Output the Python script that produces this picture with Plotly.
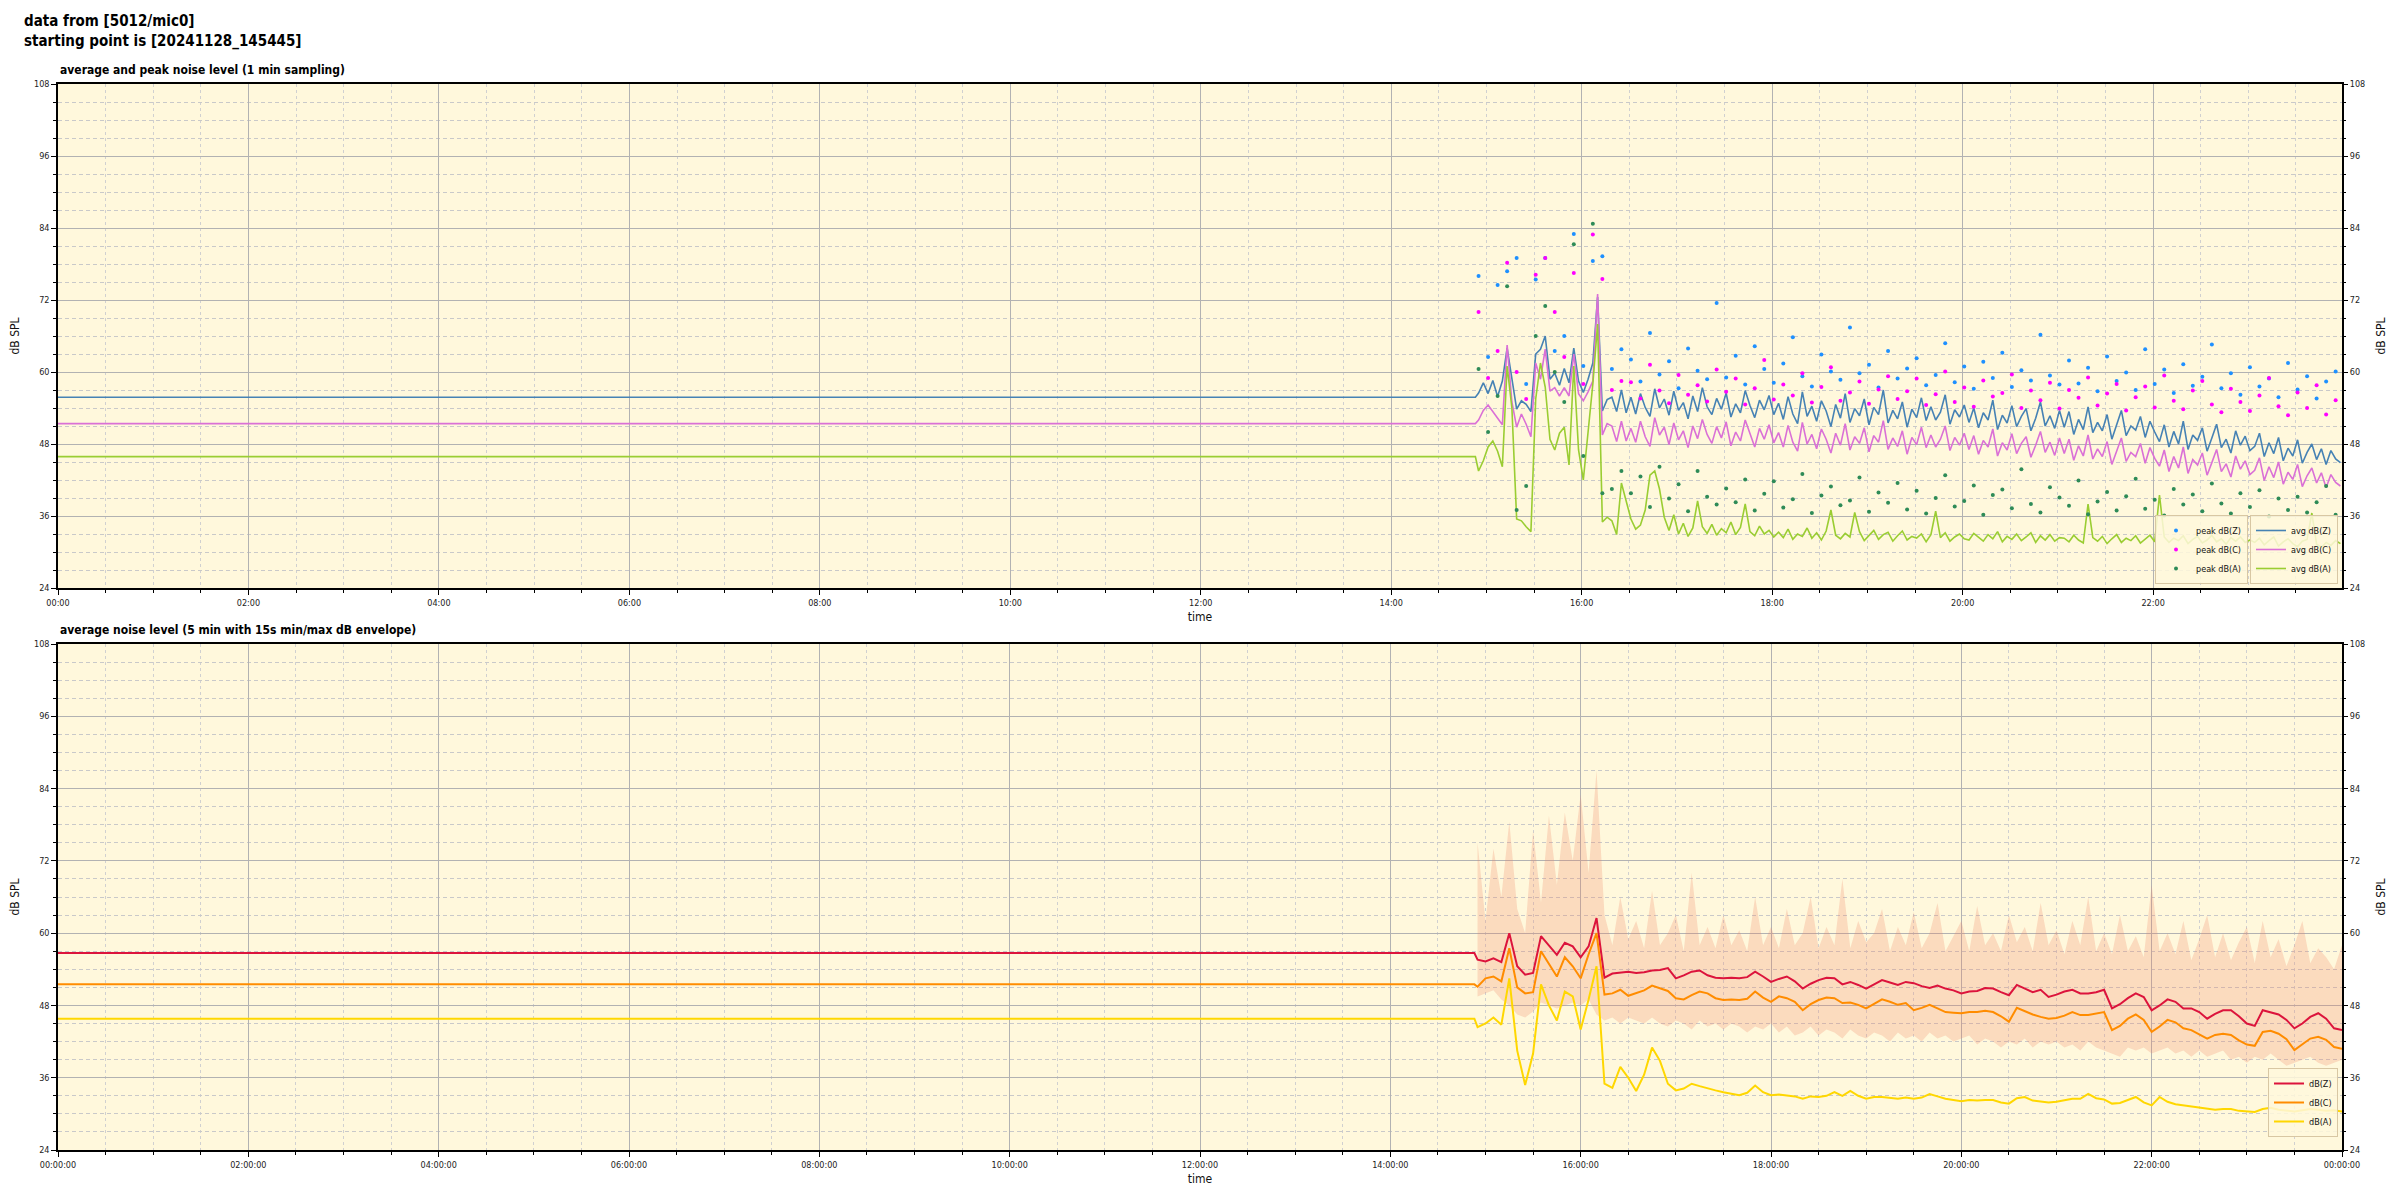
import pandas as pd
import plotly.graph_objects as go

# ---------------- data ----------------
DAY_START = "2024-11-28 00:00"
DAY_END_TOP = "2024-11-28 23:59"
DAY_END_BOT = "2024-11-29 00:00"
REC_START = "2024-11-28 14:55"
FILL_END = "2024-11-28 14:53"

# level shown before the recording started (padding)
TOP_FLAT_Z = 55.8
TOP_FLAT_C = 51.4
TOP_FLAT_A = 45.9
BOT_FLAT_Z = 56.7
BOT_FLAT_C = 51.5
BOT_FLAT_A = 45.8

# top panel: 1 min averages, read every 3 min
AVG_Z = [56.5, 58.2, 56.4, 58.6, 55.9, 58.5, 64.0, 58.5, 53.8, 55.2,
         54.6, 53.4, 63.0, 63.8, 66.0, 58.8, 59.8, 57.8, 60.6, 58.2,
         64.0, 58.5, 56.6, 58.8, 61.5, 72.5, 53.5, 55.4, 55.8, 53.4,
         57.0, 53.2,
         55.8, 53.0, 56.4, 54.1, 52.6, 57.2, 54.0, 55.5, 52.8, 56.8,
         53.6, 54.9, 52.2, 56.0, 53.4, 57.4, 54.2, 52.9, 55.6, 53.8,
         56.5, 52.5, 54.7, 53.2, 56.9, 54.4, 52.4, 55.3, 53.7, 56.1,
         52.9,
         54.8, 52.1, 55.9, 53.0, 51.4, 56.7, 52.6, 54.3, 51.8, 55.2,
         53.5, 50.9, 54.6, 52.3, 56.4, 51.6, 53.9, 52.7, 55.5, 51.2,
         54.1, 52.9, 57.0, 51.5, 53.6, 52.2, 55.0, 50.8, 53.8, 52.4,
         55.7, 51.9, 54.2, 52.0, 53.3, 56.2, 51.3, 53.7, 52.5, 54.5,
         51.6, 54.0, 50.7, 53.2, 52.0, 55.3, 50.4, 52.8, 51.5, 54.4,
         50.9, 52.6, 53.9, 50.2, 52.3, 55.0, 51.0, 52.7, 50.6, 53.6,
         50.8, 53.4, 49.6, 52.1, 50.4, 54.2, 49.9, 51.6, 50.2, 52.9,
         48.8, 51.3, 53.6, 49.4, 51.0, 50.3, 52.6, 49.1, 51.8, 50.0,
         48.4, 51.2, 47.5, 50.1, 48.0, 51.8, 47.1, 49.5, 48.6, 50.7,
         46.8, 49.0, 51.3, 47.4, 48.8, 46.5, 50.2, 47.8, 49.3, 46.9,
         47.6, 49.8, 45.9, 48.2, 46.4, 49.1, 45.2, 47.3, 46.0, 48.7,
         44.8, 46.6, 48.0, 45.4, 47.2, 44.6, 46.9, 45.5, 44.9]

AVG_C = [52.0, 53.6, 54.5, 53.4, 52.4, 51.2, 64.5, 55.0, 50.8, 53.0,
         51.3, 49.2, 61.5, 58.8, 63.8, 56.8, 57.4, 56.0, 57.4, 56.0,
         63.0, 56.4, 55.2, 56.7, 58.5, 73.0, 49.5, 51.4, 51.0, 48.4,
         51.8, 48.5,
         50.6, 48.3, 51.8, 49.2, 47.6, 52.4, 49.5, 50.8, 47.9, 51.5,
         48.7, 50.2, 47.4, 51.0, 48.9, 52.1, 49.6, 48.1, 50.9, 49.0,
         51.7, 47.7, 50.0, 48.5, 52.0, 49.8, 47.5, 50.6, 48.8, 51.2,
         48.2,
         49.9, 47.5, 51.1, 48.3, 46.8, 51.6, 48.0, 49.6, 47.2, 50.5,
         48.8, 46.5, 49.8, 47.8, 51.4, 47.0, 49.2, 48.1, 50.7, 46.7,
         49.4, 48.3, 51.9, 47.1, 49.0, 47.6, 50.2, 46.3, 49.1, 47.9,
         50.8, 47.4, 49.5, 47.5, 48.8, 51.0, 46.9, 49.1, 47.8, 49.8,
         47.1, 49.4, 46.3, 48.6, 47.5, 50.5, 46.0, 48.2, 47.0, 49.7,
         46.4, 48.1, 49.2, 45.8, 47.8, 50.1, 46.6, 48.3, 46.1, 49.0,
         46.4, 48.8, 45.3, 47.7, 46.0, 49.5, 45.5, 47.2, 45.9, 48.4,
         44.6, 46.9, 49.0, 45.1, 46.6, 45.9, 48.1, 44.8, 47.4, 45.6,
         44.3, 47.0, 43.4, 45.9, 44.0, 47.5, 43.1, 45.4, 44.5, 46.5,
         42.8, 44.9, 47.1, 43.4, 44.7, 42.5, 46.0, 43.8, 45.2, 42.9,
         43.6, 45.7, 41.9, 44.2, 42.4, 45.0, 41.3, 43.3, 42.1, 44.6,
         40.9, 42.7, 44.0, 41.5, 43.2, 40.7, 42.9, 41.6, 41.0]

AVG_A = [43.5, 45.2, 47.5, 48.5, 46.8, 44.2, 61.0, 54.0, 35.5, 35.2,
         34.2, 33.4, 55.5, 61.5, 57.5, 48.8, 47.0, 49.8, 50.8, 44.5,
         61.0, 47.0, 42.0, 50.0, 58.0, 68.0, 35.0, 35.8, 35.2, 32.9,
         41.5, 38.5,
         35.5, 33.8, 34.5, 37.0, 42.8, 43.5, 40.5, 35.8, 33.6, 36.2,
         33.0, 34.8, 32.6, 34.0,
         38.5, 34.2, 33.1, 34.6, 32.8, 33.9, 33.2, 35.0, 32.9, 34.1,
         38.0, 33.4, 32.7, 34.3, 33.0, 33.6, 32.5,
         33.3, 32.4, 33.8, 32.1, 33.0, 32.6, 34.0, 32.3, 33.2, 32.0,
         33.5, 37.0, 32.8, 32.2, 33.1, 32.5, 36.6, 33.4, 31.9, 32.8,
         33.6, 32.1, 32.9, 33.3, 31.8, 32.7, 33.5, 32.0, 32.6, 32.3,
         33.0, 31.7, 32.9, 36.8, 32.4, 33.2, 31.8, 32.5, 33.0, 32.2,
         32.0, 33.1, 32.4, 31.8, 32.9, 32.2, 33.4, 31.7, 32.6, 32.1,
         33.0, 31.9, 32.5, 33.2, 31.6, 32.7, 32.0, 32.9, 31.8, 32.4,
         32.3, 31.7, 32.8, 32.0, 31.5, 38.0, 32.4, 31.8, 32.6, 31.4,
         32.2, 32.9, 31.6, 32.3, 31.9, 32.7, 31.5, 32.1, 32.8, 31.7,
         39.5, 32.5, 31.6, 32.3, 31.9, 32.7, 31.4, 32.1, 32.6, 31.5,
         32.0, 32.8, 31.7, 32.2, 31.3, 32.4, 31.8, 32.5, 31.6, 32.0,
         31.6, 32.3, 31.2, 31.9, 32.5, 31.0, 31.7, 32.2, 31.4, 30.9,
         31.8, 32.1, 36.5, 31.3, 30.8, 31.6, 31.1, 31.9, 31.4]

# top panel: 1 min peaks, read every 6 min
PEAK_Z = [76.0, 62.5, 74.5, 76.8, 79.0, 58.0, 75.4, 79.0, 63.5, 66.0,
          83.0, 61.0, 78.5, 79.3, 60.5, 63.8,
          62.1, 58.4, 66.5, 59.6, 61.8, 57.3, 63.9, 60.2, 58.8, 71.5,
          59.1, 62.7, 57.9, 64.3, 60.5, 58.2, 61.4, 65.8, 59.3, 57.6,
          62.9, 60.1, 58.7, 67.4, 59.8, 61.2, 57.4, 63.5, 58.9, 60.6,
          62.3, 57.8, 59.5, 64.8, 58.3, 60.9, 57.2, 61.7, 59.0, 63.2,
          57.5, 60.3, 58.6, 66.2, 59.4, 57.9, 61.9, 58.1, 60.7, 56.8,
          62.6, 58.5, 59.9, 57.0, 63.8, 58.0, 60.4, 56.5, 61.3, 57.7,
          59.2, 64.6, 57.3, 59.8, 56.2, 60.8, 57.6, 58.9, 55.8, 61.5,
          57.1, 59.3, 55.6, 58.4, 60.1]
PEAK_C = [70.0, 59.0, 63.5, 78.2, 60.0, 55.5, 76.2, 79.0, 70.0, 62.5,
          76.5, 58.0, 82.9, 75.5, 57.0, 58.5,
          58.3, 55.6, 61.2, 56.9, 54.8, 59.5, 56.2, 57.8, 55.1, 60.4,
          56.7, 58.9, 54.6, 57.3, 62.0, 55.4, 57.9, 56.1, 59.8, 54.9,
          57.5, 60.8, 55.2, 56.6, 58.4, 54.7, 57.1, 59.3, 55.5, 56.8,
          58.9, 54.5, 56.3, 60.1, 55.0, 57.4, 54.2, 58.6, 55.9, 56.5,
          59.6, 54.0, 56.9, 55.3, 58.2, 53.9, 57.0, 55.7, 59.1, 54.4,
          56.4, 58.0, 53.6, 55.8, 57.6, 54.1, 59.4, 55.2, 53.8, 56.9,
          58.5, 54.6, 53.3, 57.2, 55.0, 53.5, 56.1, 59.0, 54.3, 52.8,
          56.6, 54.0, 57.8, 52.9, 55.3]
PEAK_A = [60.5, 50.0, 56.0, 74.3, 37.0, 41.0, 66.0, 71.0, 60.0, 55.0,
          81.3, 46.0, 84.7, 39.8, 40.5, 43.5,
          39.8, 42.6, 37.5, 44.2, 38.9, 41.3, 36.8, 43.5, 39.2, 37.9,
          40.6, 38.3, 42.1, 36.9, 39.7, 41.8, 37.4, 38.8, 43.0, 36.5,
          39.4, 40.9, 37.8, 38.6, 42.4, 36.7, 39.9, 38.2, 41.5, 37.1,
          40.2, 36.4, 39.0, 42.8, 37.6, 38.5, 41.1, 36.2, 39.5, 40.4,
          37.3, 43.8, 38.0, 36.6, 40.8, 39.1, 37.7, 41.9, 36.3, 38.4,
          40.0, 36.9, 39.3, 42.2, 37.2, 38.7, 36.1, 40.5, 37.9, 39.6,
          36.8, 41.4, 38.1, 36.4, 39.8, 37.5, 40.3, 35.9, 38.9, 37.0,
          39.2, 36.6, 38.3, 41.0, 36.2]

# bottom panel: 5 min averages, read every 5 min
LVL_Z = [55.6, 55.3, 55.8, 55.2, 60.0, 54.5, 53.1, 53.4, 59.5, 58.0,
         56.4, 58.4, 57.8, 56.0, 57.8, 62.5, 52.6, 53.3, 53.4, 53.6,
         53.4, 53.5, 53.8, 53.9, 54.2, 52.5, 53.0, 53.6, 53.8, 53.0,
         52.6, 52.5, 52.6, 52.5, 52.7, 53.6, 52.8, 51.9, 52.4, 52.8,
         52.0, 50.8, 51.6, 52.2, 52.6, 52.5, 51.5, 51.9, 51.4, 50.8,
         51.5, 52.2, 51.8, 51.4, 51.9, 51.7, 51.2, 50.9, 51.3, 50.8,
         50.5, 50.0, 50.3, 50.4, 50.9, 50.8, 50.2, 49.7, 51.4, 50.8,
         50.2, 50.6, 49.4, 49.8, 50.3, 50.6, 50.0, 50.0, 50.2, 50.6,
         47.5, 48.2, 49.2, 50.0, 49.4, 47.2, 48.0, 49.0, 48.6, 47.5,
         47.5, 46.9, 45.8, 46.6, 47.2, 47.2, 46.2, 45.0, 44.6, 47.2,
         46.9, 46.5, 45.6, 44.2, 45.0, 46.1, 46.7, 45.8, 44.2, 43.9]
LVL_C = [51.1, 52.5, 52.8, 52.0, 57.5, 51.0, 50.0, 50.2, 57.0, 55.0,
         52.8, 56.0, 54.5, 52.5, 56.5, 60.0, 49.8, 50.0, 50.6, 49.6,
         50.0, 50.5, 51.3, 50.8, 50.4, 49.2, 49.0, 49.7, 50.3, 50.0,
         49.2, 48.9, 49.0, 48.9, 49.1, 50.3, 49.3, 48.6, 49.5, 49.2,
         48.6, 47.2, 48.2, 48.9, 49.3, 49.2, 48.4, 48.5, 48.1, 47.5,
         48.3, 49.0, 48.6, 48.1, 48.4, 47.2, 47.6, 48.1, 47.5, 46.9,
         46.8, 46.7, 46.9, 46.9, 47.1, 46.9, 46.2, 45.3, 47.6, 47.0,
         46.5, 46.1, 45.8, 45.9, 46.3, 46.9, 46.4, 46.4, 46.6, 46.9,
         43.9, 44.6, 45.8, 46.5, 45.6, 43.6, 44.5, 45.6, 45.2, 44.2,
         43.9, 43.2, 42.5, 43.1, 43.3, 43.1, 42.2, 41.5, 41.3, 43.6,
         43.8, 43.3, 42.4, 40.6, 41.5, 42.5, 42.8, 42.3, 41.1, 40.8]
LVL_A = [44.4, 45.0, 46.0, 44.8, 52.5, 40.5, 34.8, 40.0, 51.5, 48.0,
         45.5, 50.3, 49.5, 44.0, 49.0, 54.5, 35.0, 34.3, 37.8, 36.0,
         33.8, 36.5, 41.0, 38.8, 35.0, 33.9, 34.2, 35.0, 34.6, 34.2,
         33.9, 33.6, 33.4, 33.1, 33.5, 34.7, 33.6, 33.1, 33.2, 33.0,
         32.9, 32.5, 32.9, 32.8, 33.0, 33.6, 33.0, 33.8, 33.0, 32.5,
         32.8, 32.8, 32.6, 32.5, 32.7, 32.5, 32.7, 33.3, 32.9, 32.5,
         32.3, 32.1, 32.3, 32.2, 32.3, 32.3, 31.9, 31.7, 32.6, 32.8,
         32.2, 32.1, 31.9, 32.0, 32.2, 32.5, 32.5, 33.3, 32.6, 32.4,
         31.7, 31.8, 32.3, 32.8, 31.9, 31.4, 32.8, 32.0, 31.6, 31.4,
         31.2, 31.1, 30.8, 30.7, 30.8, 30.8, 30.5, 30.4, 30.3, 30.8,
         31.0, 30.7, 30.6, 30.4, 30.6, 30.8, 30.7, 30.5, 30.6, 30.4]

# bottom panel: 15 s min / max envelope, read every 5 min
ENV_MAX = [75, 62, 74, 66, 78.5, 64, 60, 77, 65, 79.5,
           68, 80, 72, 83, 70, 87, 63, 58, 66, 59,
           62, 57.5, 67, 58, 60, 63, 57, 70, 58, 61,
           57.5, 63, 58, 60.5, 57, 66, 58, 61, 57.5, 64,
           58, 60, 66, 57.5, 61, 58, 69, 57.5, 62, 58.5,
           60, 64, 57, 61, 58, 63.5, 57.5, 60, 65, 57,
           59.5, 62, 57, 64.5, 58, 60, 57, 63, 58.5, 61,
           57, 65, 58, 60.5, 56.5, 62, 58, 66, 57, 60,
           56.5, 63, 57, 59.5, 56, 68, 57, 60, 56.5, 62,
           55.5, 59, 63, 56, 60, 55.5, 58.5, 61, 55, 62,
           56, 59, 54.5, 58, 62, 55, 57.5, 56, 54, 58]
ENV_MIN = [49.5, 50.0, 50.5, 49.0, 48.0, 46.5, 46.0, 47.0, 48.5, 48.0,
           47.5, 48.0, 48.5, 48.0, 49.0, 46.5, 45.5, 46.0, 45.0, 46.0,
           45.5, 45.0, 46.0, 45.0, 44.5, 45.5, 45.0, 44.0, 45.5, 44.5,
           45.0, 44.0, 45.0, 44.5, 43.5, 44.5, 44.0, 45.0, 43.5, 44.5,
           43.0, 43.5, 44.5, 43.0, 44.0, 43.5, 42.5, 44.0, 43.0, 42.5,
           43.5, 43.0, 42.0, 43.5, 42.5, 43.0, 42.0, 43.5, 42.5, 43.0,
           42.0, 42.5, 43.0, 41.5, 42.5, 42.0, 41.0, 42.0, 41.5, 42.5,
           41.0, 42.0, 41.5, 42.0, 41.0, 41.5, 40.5, 42.0, 41.0, 40.5,
           40.0, 39.5, 41.0, 40.5, 41.0, 40.0, 40.5, 41.0, 40.0, 40.5,
           39.5, 40.5, 39.5, 40.0, 40.5, 39.0, 39.5, 38.5, 39.5, 39.0,
           40.0, 39.0, 38.0, 38.5, 39.0, 39.5, 38.5, 38.0, 38.5, 39.0]

Y_TICKS = [24, 36, 48, 60, 72, 84, 96, 108]

# ---------------- times ----------------
t_top = list(pd.date_range(REC_START, periods=len(AVG_Z), freq="3min"))
t_peak = list(pd.date_range(REC_START, periods=len(PEAK_Z), freq="6min"))
t_bot = list(pd.date_range(REC_START, periods=len(LVL_Z), freq="5min"))
pad_x = [pd.Timestamp(DAY_START), pd.Timestamp(FILL_END)]

FONT = "DejaVu Sans Condensed, Liberation Sans Narrow, DejaVu Sans, sans-serif"
BG = "#FFF8DC"

# page geometry (figure sits at an 8 px body offset)
OFF = 8
W, H = 2400 - OFF, 1200 - OFF


def px(x):
    return (x - OFF) / W


def py(y):
    return 1 - (y - OFF) / H


fig = go.Figure()

# ---- top panel ----
for name, vals, flat, col in [("avg dB(Z)", AVG_Z, TOP_FLAT_Z, "#4682B4"),
                              ("avg dB(C)", AVG_C, TOP_FLAT_C, "#DA70D6"),
                              ("avg dB(A)", AVG_A, TOP_FLAT_A, "#9ACD32")]:
    fig.add_trace(go.Scatter(x=pad_x + t_top, y=[flat, flat] + vals, mode="lines",
                             name=name, line=dict(color=col, width=1.6),
                             xaxis="x", yaxis="y", legend="legend2"))
for name, vals, col in [("peak dB(Z)", PEAK_Z, "#1E90FF"),
                        ("peak dB(C)", PEAK_C, "#FF00FF"),
                        ("peak dB(A)", PEAK_A, "#2E8B57")]:
    fig.add_trace(go.Scatter(x=t_peak, y=vals, mode="markers", name=name,
                             marker=dict(color=col, size=4),
                             xaxis="x", yaxis="y", legend="legend"))

# ---- bottom panel ----
fig.add_trace(go.Scatter(x=t_bot, y=ENV_MIN, mode="lines", line=dict(width=0),
                         showlegend=False, hoverinfo="skip", xaxis="x2", yaxis="y2"))
fig.add_trace(go.Scatter(x=t_bot, y=ENV_MAX, mode="lines", line=dict(width=0),
                         fill="tonexty", fillcolor="rgba(240,130,100,0.25)",
                         showlegend=False, hoverinfo="skip", xaxis="x2", yaxis="y2"))
for name, vals, flat, col in [("dB(Z)", LVL_Z, BOT_FLAT_Z, "#DC143C"),
                              ("dB(C)", LVL_C, BOT_FLAT_C, "#FF8C00"),
                              ("dB(A)", LVL_A, BOT_FLAT_A, "#FFD700")]:
    fig.add_trace(go.Scatter(x=pad_x + t_bot, y=[flat, flat] + vals, mode="lines",
                             name=name, line=dict(color=col, width=2),
                             xaxis="x2", yaxis="y2", legend="legend3"))

# empty traces so the right-hand axes are drawn
fig.add_trace(go.Scatter(x=[], y=[], xaxis="x", yaxis="y3", showlegend=False))
fig.add_trace(go.Scatter(x=[], y=[], xaxis="x2", yaxis="y4", showlegend=False))

XD = [px(58), px(2342)]
TOP_D = [py(588), py(84)]
BOT_D = [py(1150), py(644)]

tickfont = dict(family=FONT, size=9, color="#222")
titlefont = dict(family=FONT, size=12, color="#111")


def yax(domain, anchor, side="left", overlay=None):
    d = dict(range=[24, 108], tickvals=Y_TICKS, ticks="outside", ticklen=5,
             tickcolor="#000", tickfont=tickfont, zeroline=False, automargin=False,
             minor=dict(dtick=3, tick0=24, ticks="outside", ticklen=3, tickcolor="#000",
                        showgrid=overlay is None, gridcolor="#c9c9c9",
                        griddash="4px,3px", gridwidth=0.8),
             anchor=anchor, side=side, fixedrange=True,
             title=dict(text="dB SPL", font=titlefont, standoff=12))
    if overlay is None:
        d.update(domain=domain, showgrid=True, gridcolor="#b2b2b2", gridwidth=1.2,
                 showline=True, linecolor="#000", linewidth=1.5, mirror=True)
    else:
        d.update(overlaying=overlay, showgrid=False, showline=False)
    return d


def xax(anchor, rng, fmt):
    return dict(type="date", range=rng, domain=XD, anchor=anchor, automargin=False,
                tick0=DAY_START, dtick=2 * 3600 * 1000, tickformat=fmt,
                ticks="outside", ticklen=5, tickcolor="#000", tickfont=tickfont,
                showgrid=True, gridcolor="#b2b2b2", gridwidth=1.2,
                showline=True, linecolor="#000", linewidth=1.5, mirror=True,
                zeroline=False,
                minor=dict(dtick=30 * 60 * 1000, ticks="outside", ticklen=3,
                           tickcolor="#000", showgrid=True, gridcolor="#d0d0d0",
                           griddash="3px,3px", gridwidth=0.8),
                title=dict(text="time", font=titlefont, standoff=6), fixedrange=True)


legend_common = dict(bgcolor="rgba(255,248,220,0.85)", bordercolor="#d8c7a3",
                     borderwidth=1, font=dict(family=FONT, size=9, color="#111"),
                     tracegroupgap=0, itemwidth=30, traceorder="normal")

fig.update_layout(
    width=W, height=H,
    margin=dict(l=0, r=0, t=0, b=0, autoexpand=False),
    paper_bgcolor="white", plot_bgcolor=BG,
    font=dict(family=FONT, size=10, color="#111"),
    hovermode=False,
    xaxis=xax("y", [DAY_START, DAY_END_TOP], "%H:%M"),
    xaxis2=xax("y2", [DAY_START, DAY_END_BOT], "%H:%M:%S"),
    yaxis=yax(TOP_D, "x"),
    yaxis2=yax(BOT_D, "x2"),
    yaxis3=yax(TOP_D, "x", side="right", overlay="y"),
    yaxis4=yax(BOT_D, "x2", side="right", overlay="y2"),
    legend=dict(x=px(2248), y=py(584), xanchor="right", yanchor="bottom", **legend_common),
    legend2=dict(x=px(2338), y=py(584), xanchor="right", yanchor="bottom", **legend_common),
    legend3=dict(x=px(2338), y=py(1137), xanchor="right", yanchor="bottom", **legend_common),
    annotations=[
        dict(text="<b>data from [5012/mic0]<br>starting point is [20241128_145445]</b>",
             xref="paper", yref="paper", x=px(22), y=py(10),
             xanchor="left", yanchor="top", align="left", showarrow=False,
             font=dict(family=FONT, size=15, color="#000")),
        dict(text="<b>average and peak noise level (1 min sampling)</b>",
             xref="paper", yref="paper", x=XD[0], y=py(79),
             xanchor="left", yanchor="bottom", showarrow=False,
             font=dict(family=FONT, size=12, color="#000")),
        dict(text="<b>average noise level (5 min with 15s min/max dB envelope)</b>",
             xref="paper", yref="paper", x=XD[0], y=py(639),
             xanchor="left", yanchor="bottom", showarrow=False,
             font=dict(family=FONT, size=12, color="#000")),
    ],
)

fig.write_html("out.html")
